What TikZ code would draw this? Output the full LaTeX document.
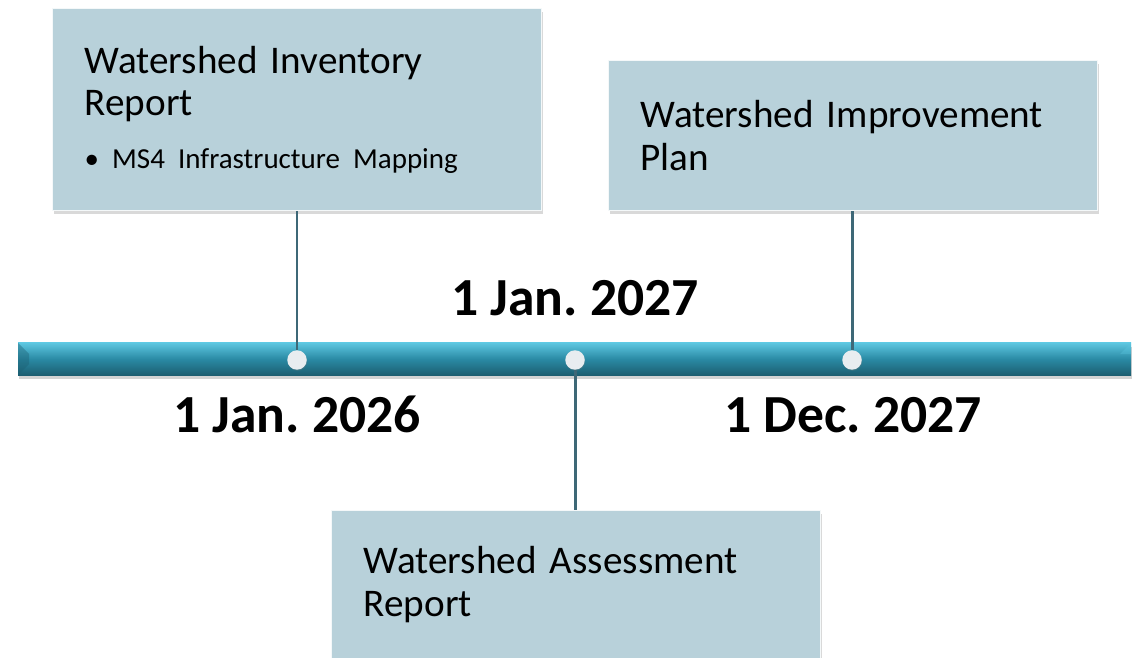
\documentclass[tikz,border=0pt]{standalone}
\usepackage{fontspec}
\setmainfont{Carlito}
\usetikzlibrary{shadows}

\definecolor{boxfill}{HTML}{B8D1DA}
\definecolor{barlight}{HTML}{5CC6E0}
\definecolor{barmid}{HTML}{2A8AA4}
\definecolor{bardark}{HTML}{1C5E71}
\definecolor{stemline}{HTML}{3E6877}
\definecolor{dotfill}{HTML}{E8EDF0}

\tikzset{
	milebox/.style={rectangle, draw=white!85!boxfill, line width=0.8pt, fill=boxfill, anchor=north west,
		inner xsep=0.64cm, inner ysep=0pt, text width=8.5cm, align=left,
		drop shadow={shadow xshift=0.8pt, shadow yshift=-2pt, opacity=0.3},
		font=\fontsize{22.3}{24.4}\selectfont},
	miledot/.style={circle, fill=dotfill, inner sep=0pt, minimum size=0.39cm,
		drop shadow={shadow xshift=0.3pt, shadow yshift=-0.6pt, opacity=0.25}},
	datelabel/.style={anchor=base, font=\fontsize{30.5}{34}\selectfont\bfseries},
	stem/.style={line width=1.7pt, color=stemline}
}

\begin{document}
\frenchspacing
\begin{tikzpicture}[x=0.02cm, y=-0.02cm]
			%%%%% START %%%%%
			
			\useasboundingbox (0, 0) rectangle (1142, 658);
			
			% time bar
			\path[drop shadow={shadow xshift=0.5pt, shadow yshift=-2.5pt, opacity=0.35},
				top color=barlight, bottom color=bardark, middle color=barmid] (18, 343) rectangle (1131, 375);
			\fill[bardark, opacity=0.4] (18, 343) -- (29, 354) -- (29, 364) -- (18, 375) -- cycle;
			\fill[barlight, opacity=0.35] (1131, 343) -- (1120, 354) -- (1131, 354) -- cycle;
			
			% milestones
			\node[miledot] (dot2026) at (297, 360) {};
			\node[miledot] (dot2027) at (575, 360) {};
			\node[miledot] (dotdec) at (852, 360) {};
			
			\node[datelabel] (lbl2026) at (297, 432) {1 Jan. 2026};
			\node[datelabel] (lbl2027) at (575, 316) {1 Jan. 2027};
			\node[datelabel] (lbldec) at (853, 432) {1 Dec. 2027};
			
			% report boxes
			\node[milebox, minimum height=4.04cm] (inventory) at (52, 8)
				{Watershed Inventory\\Report\\[5.6pt]{\fontsize{16.5}{18}\selectfont\textbullet\ MS4 Infrastructure Mapping}};
			\node[milebox, minimum height=3cm] (improvement) at (608, 60)
				{Watershed Improvement\\Plan};
			\node[milebox, minimum height=2.96cm] (assessment) at (331, 510)
				{Watershed Assessment\\Report};
			
			\draw[stem] (dot2026 |- inventory.south) -- (dot2026.north);
			\draw[stem] (dotdec |- improvement.south) -- (dotdec.north);
			\draw[stem] (dot2027.south) -- (dot2027 |- assessment.north);
			
			%%%%% END %%%%%
\end{tikzpicture}
\end{document}
